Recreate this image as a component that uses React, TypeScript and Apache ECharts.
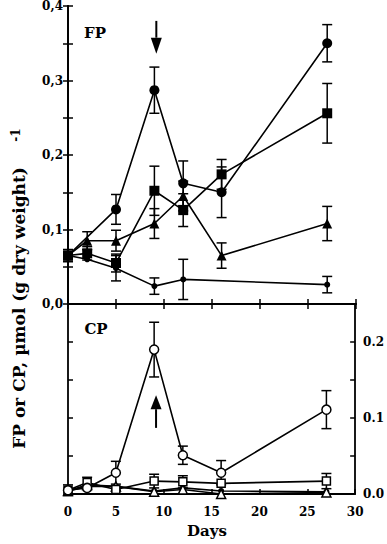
import React, { useEffect, useRef } from "react";
import * as echarts from "echarts";

// ---- data ----
const days = [0, 2, 5, 9, 12, 16, 27];

// FP panel (left axis)
const fpCircleDays = [0, 5, 9, 12, 16, 27];
const fpCircle = [0.065, 0.127, 0.287, 0.162, 0.150, 0.350];
const fpCircleErr = [0.008, 0.02, 0.031, 0.03, 0.034, 0.025];
const fpSquare = [0.065, 0.068, 0.055, 0.152, 0.126, 0.174, 0.256];
const fpSquareErr = [0.008, 0.009, 0.012, 0.033, 0.022, 0.02, 0.04];
const fpTriangle = [0.065, 0.085, 0.085, 0.108, 0.145, 0.065, 0.108];
const fpTriangleErr = [0, 0.012, 0.014, 0.02, 0.02, 0.017, 0.023];
const fpDotDays = [0, 2, 5, 9, 12, 27];
const fpDot = [0.065, 0.060, 0.048, 0.024, 0.033, 0.026];
const fpDotErr = [0, 0, 0.017, 0.011, 0.027, 0.011];

// CP panel (right axis)
const cpCircle = [0.005, 0.008, 0.028, 0.190, 0.051, 0.028, 0.111];
const cpCircleErr = [0.007, 0, 0.015, 0.036, 0.012, 0.016, 0.025];
const cpSquare = [0.005, 0.015, 0.006, 0.017, 0.016, 0.014, 0.017];
const cpSquareErr = [0, 0.007, 0, 0.009, 0.008, 0, 0.01];
const cpTriangle = [0.004, 0.012, 0.010, 0.003, 0.006, 0.000, 0.002];
const cpDot = [0.004, 0.010, 0.010, 0.004, 0.008, 0.004, 0.003];

// arrows: [day, start value, tip value]
const fpArrow = [9.2, 0.38, 0.336];
const cpArrow = [9.2, 0.087, 0.13];

const fpTicks = { min: 0, max: 0.4, interval: 0.05 };
const cpTicks = { min: 0, max: 0.25, interval: 0.05 };
const dayTicks = { min: 0, max: 30, interval: 5 };

const FONT = "DejaVu Serif";

const isTenth = (v: number) => Math.abs(v * 10 - Math.round(v * 10)) < 1e-6;

const pairs = (xs: number[], ys: number[]) => xs.map((d, i) => [d, ys[i]]);

function errSeries(xs: number[], ys: number[], es: number[], xi: number, yi: number) {
  return {
    type: "custom",
    xAxisIndex: xi,
    yAxisIndex: yi,
    z: 1,
    silent: true,
    data: xs.map((d, i) => [d, ys[i], es[i]]),
    renderItem: (_p: any, api: any) => {
      const x = api.value(0);
      const y = api.value(1);
      const e = api.value(2);
      if (!e) return { type: "group", children: [] };
      const t = api.coord([x, y + e]);
      const b = api.coord([x, y - e]);
      const w = 5;
      const st = { stroke: "#000", lineWidth: 1.5 };
      return {
        type: "group",
        children: [
          { type: "line", shape: { x1: t[0], y1: t[1], x2: b[0], y2: b[1] }, style: st },
          { type: "line", shape: { x1: t[0] - w, y1: t[1], x2: t[0] + w, y2: t[1] }, style: st },
          { type: "line", shape: { x1: b[0] - w, y1: b[1], x2: b[0] + w, y2: b[1] }, style: st },
        ],
      };
    },
  };
}

function arrowSeries(a: number[], xi: number, yi: number, head: number) {
  return {
    type: "custom",
    xAxisIndex: xi,
    yAxisIndex: yi,
    z: 5,
    silent: true,
    data: [a],
    renderItem: (_p: any, api: any) => {
      const p0 = api.coord([api.value(0), api.value(1)]);
      const p1 = api.coord([api.value(0), api.value(2)]);
      const dir = p1[1] > p0[1] ? 1 : -1;
      const by = p1[1] - dir * head;
      return {
        type: "group",
        children: [
          { type: "line", shape: { x1: p0[0], y1: p0[1], x2: p0[0], y2: by }, style: { stroke: "#000", lineWidth: 2 } },
          {
            type: "polygon",
            shape: { points: [[p1[0], p1[1]], [p1[0] - 5.5, by], [p1[0] + 5.5, by]] },
            style: { fill: "#000" },
          },
        ],
      };
    },
  };
}

function lineSeries(data: number[][], xi: number, yi: number, symbol: string, size: number, open: boolean) {
  return {
    type: "line",
    xAxisIndex: xi,
    yAxisIndex: yi,
    z: 3,
    data,
    symbol,
    symbolSize: size,
    showSymbol: true,
    silent: true,
    itemStyle: open
      ? { color: "#fff", borderColor: "#000", borderWidth: 1.5 }
      : { color: "#000", borderColor: "#000", borderWidth: 0 },
    lineStyle: { color: "#000", width: 1.6 },
  };
}

const axisLine = { show: true, lineStyle: { color: "#000", width: 1.8 } };
const axisTick = { show: true, inside: true, length: 5, lineStyle: { color: "#000", width: 1.5 } };
const labelFont = { fontFamily: FONT, fontWeight: "bold", fontSize: 12, color: "#000" };

export default function App() {
  const ref = useRef<HTMLDivElement>(null);
  useEffect(() => {
    if (!ref.current) return;
    const chart = echarts.init(ref.current, null, { renderer: "svg" });
    const xBase = {
      type: "value",
      ...dayTicks,
      axisLine,
      axisTick,
      splitLine: { show: false },
    };
    const option: any = {
      animation: false,
      backgroundColor: "#fff",
      grid: [
        { left: 68, top: 5, width: 288, height: 299 },
        { left: 68, top: 304, width: 288, height: 190 },
      ],
      xAxis: [
        { ...xBase, gridIndex: 0, position: "bottom", axisLabel: { show: false } },
        { ...xBase, gridIndex: 0, position: "top", axisLabel: { show: false } },
        { ...xBase, gridIndex: 1, position: "bottom", axisLabel: { show: true, ...labelFont, margin: 12 } },
      ],
      yAxis: [
        {
          type: "value", gridIndex: 0, position: "left", ...fpTicks, axisLine, axisTick,
          splitLine: { show: false },
          axisLabel: {
            show: true, ...labelFont, margin: 5,
            formatter: (v: number) => (isTenth(v) ? v.toFixed(1).replace(".", ",") : ""),
          },
        },
        {
          type: "value", gridIndex: 0, position: "right", ...fpTicks, axisLine, axisTick,
          splitLine: { show: false }, axisLabel: { show: false },
        },
        {
          type: "value", gridIndex: 1, position: "left", ...cpTicks, axisLine, axisTick,
          splitLine: { show: false }, axisLabel: { show: false },
        },
        {
          type: "value", gridIndex: 1, position: "right", ...cpTicks, axisLine, axisTick,
          splitLine: { show: false },
          axisLabel: {
            show: true, ...labelFont, margin: 8,
            formatter: (v: number) => (isTenth(v) && v < 0.21 ? v.toFixed(1) : ""),
          },
        },
      ],
      series: [
        errSeries(fpCircleDays, fpCircle, fpCircleErr, 0, 0),
        errSeries(days, fpSquare, fpSquareErr, 0, 0),
        errSeries(days, fpTriangle, fpTriangleErr, 0, 0),
        errSeries(fpDotDays, fpDot, fpDotErr, 0, 0),
        lineSeries(pairs(fpCircleDays, fpCircle), 0, 0, "circle", 10, false),
        lineSeries(pairs(fpDotDays, fpDot), 0, 0, "circle", 6, false),
        lineSeries(pairs(days, fpTriangle), 0, 0, "triangle", 10, false),
        lineSeries(pairs(days, fpSquare), 0, 0, "rect", 10, false),
        arrowSeries(fpArrow, 0, 0, 16),

        errSeries(days, cpCircle, cpCircleErr, 2, 2),
        errSeries(days, cpSquare, cpSquareErr, 2, 2),
        lineSeries(pairs(days, cpDot), 2, 2, "circle", 6, false),
        lineSeries(pairs(days, cpTriangle), 2, 2, "triangle", 9, true),
        lineSeries(pairs(days, cpSquare), 2, 2, "rect", 8, true),
        lineSeries(pairs(days, cpCircle), 2, 2, "circle", 9, true),
        arrowSeries(cpArrow, 2, 2, 14),
      ],
      graphic: [
        {
          type: "text", x: 95, y: 33,
          style: { text: "FP", fontFamily: FONT, fontWeight: "bold", fontSize: 15, fill: "#000", align: "center", verticalAlign: "middle" },
        },
        {
          type: "text", x: 96, y: 329,
          style: { text: "CP", fontFamily: FONT, fontWeight: "bold", fontSize: 15, fill: "#000", align: "center", verticalAlign: "middle" },
        },
        {
          type: "text", x: 207, y: 531,
          style: { text: "Days", fontFamily: FONT, fontWeight: "bold", fontSize: 15, fill: "#000", align: "center", verticalAlign: "middle" },
        },
        {
          type: "text", x: 19, y: 308, rotation: Math.PI / 2,
          style: { text: "FP or CP, µmol (g dry weight)", fontFamily: FONT, fontWeight: "bold", fontSize: 17, fill: "#000", align: "center", verticalAlign: "middle" },
        },
        {
          type: "text", x: 16, y: 135, rotation: Math.PI / 2,
          style: { text: "-1", fontFamily: FONT, fontWeight: "bold", fontSize: 12, fill: "#000", align: "center", verticalAlign: "middle" },
        },
      ],
    };
    chart.setOption(option);
    return () => chart.dispose();
  }, []);
  return (
    <div
      ref={ref}
      style={{ position: "absolute", left: 0, top: 0, width: 387, height: 544, background: "#fff" }}
    />
  );
}
